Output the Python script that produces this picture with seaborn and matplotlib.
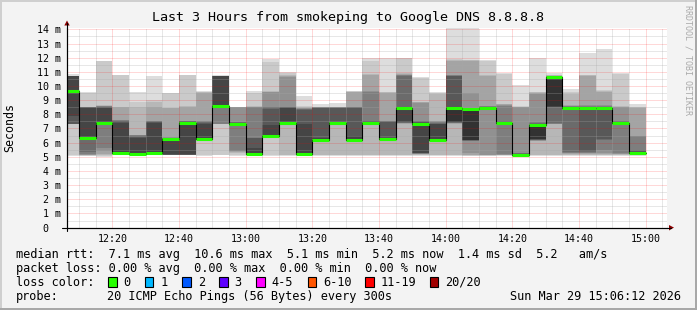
import numpy as np
import pandas as pd
import matplotlib
matplotlib.use("Agg")
import matplotlib.pyplot as plt
import seaborn as sns
from matplotlib.patches import Rectangle, Polygon

# ---------------- data ----------------
bar_end = pd.date_range("2026-03-29 12:10", "2026-03-29 15:00", freq="5min")

median_ms = [9.67, 6.33, 7.42, 5.25, 5.2, 5.25, 6.28, 7.38, 6.28, 8.62,
             7.34, 5.23, 6.5, 7.4, 5.2, 6.22, 7.4, 6.2, 7.4, 6.28,
             8.48, 7.32, 6.22, 8.48, 8.38, 8.47, 7.36, 5.13, 7.28, 10.66,
             8.47, 8.47, 8.47, 7.38, 5.25]

# 20 sorted ping rtts (ms) per 5-minute step
pings_ms = [
    [5.08, 5.1, 7.3, 7.3, 7.3, 7.3, 7.3, 7.32, 7.9, 9.6, 9.75, 10.7, 10.7, 10.7, 10.7, 10.7, 10.7, 10.7, 10.71, 10.83],
    [5.05, 5.08, 5.1, 5.1, 5.15, 5.2, 5.36, 6.28, 6.3, 6.32, 6.35, 8.42, 8.5, 8.5, 8.5, 8.52, 8.54, 8.55, 9.5, 9.55],
    [5.0, 5.05, 5.1, 5.2, 5.4, 5.6, 7.3, 7.35, 7.4, 7.42, 7.43, 8.42, 8.5, 8.55, 8.6, 8.6, 8.6, 8.65, 11.75, 11.8],
    [5.1, 5.15, 5.2, 5.2, 5.2, 5.2, 5.22, 5.23, 5.24, 5.25, 5.26, 7.4, 7.5, 7.55, 7.6, 7.62, 8.5, 8.55, 10.75, 10.78],
    [5.1, 5.15, 5.18, 5.19, 5.2, 5.2, 5.2, 5.2, 5.2, 5.2, 5.22, 6.3, 6.4, 6.5, 6.54, 6.55, 6.56, 8.54, 8.9, 9.6],
    [5.1, 5.15, 5.2, 5.2, 5.2, 5.22, 5.23, 5.24, 5.25, 5.25, 5.26, 7.4, 7.45, 7.5, 7.5, 7.5, 8.54, 8.9, 9.0, 10.71],
    [5.1, 5.12, 5.13, 5.13, 5.14, 5.15, 5.15, 5.16, 5.17, 6.25, 6.3, 6.3, 6.3, 6.3, 6.35, 6.4, 8.42, 8.45, 9.5, 9.53],
    [5.1, 5.12, 5.13, 5.13, 5.13, 5.14, 5.15, 5.16, 5.2, 7.35, 7.4, 7.45, 7.5, 7.5, 7.5, 7.55, 8.54, 8.6, 10.75, 10.78],
    [5.08, 5.1, 6.2, 6.2, 6.22, 6.24, 6.25, 6.26, 6.27, 6.28, 6.29, 7.3, 7.4, 7.45, 7.5, 7.5, 9.5, 9.55, 9.6, 9.67],
    [5.13, 5.15, 7.3, 7.3, 7.3, 7.32, 8.5, 8.55, 8.6, 8.62, 8.63, 10.7, 10.7, 10.7, 10.7, 10.7, 10.7, 10.7, 10.71, 10.78],
    [5.05, 5.1, 5.3, 5.35, 5.4, 5.42, 7.2, 7.28, 7.3, 7.33, 7.36, 7.4, 7.42, 7.44, 7.45, 8.5, 8.52, 8.53, 8.54, 8.55],
    [5.1, 5.15, 5.2, 5.2, 5.2, 5.2, 5.21, 5.22, 5.23, 5.24, 5.25, 5.6, 6.3, 6.3, 8.5, 8.52, 8.54, 8.56, 9.5, 9.65],
    [5.08, 5.1, 6.3, 6.35, 6.4, 6.42, 6.45, 6.48, 6.5, 6.52, 6.55, 7.25, 8.4, 8.5, 8.55, 9.6, 9.6, 9.62, 11.7, 11.9],
    [5.08, 5.1, 5.12, 7.3, 7.32, 7.34, 7.36, 7.38, 7.39, 7.4, 7.42, 8.45, 8.5, 8.52, 8.54, 10.65, 10.7, 10.75, 10.9, 11.0],
    [5.05, 5.1, 5.15, 5.18, 5.19, 5.2, 5.2, 5.2, 5.2, 5.2, 5.22, 7.3, 8.3, 8.35, 8.4, 8.42, 8.45, 8.5, 8.6, 9.3],
    [5.05, 5.1, 5.12, 6.1, 6.15, 6.18, 6.2, 6.22, 6.24, 6.25, 6.26, 6.3, 8.45, 8.48, 8.5, 8.5, 8.5, 8.52, 8.55, 8.75],
    [5.05, 5.1, 5.12, 7.3, 7.32, 7.34, 7.36, 7.37, 7.38, 7.4, 7.42, 7.45, 8.45, 8.48, 8.5, 8.5, 8.5, 8.52, 8.55, 8.77],
    [5.05, 5.1, 5.12, 6.1, 6.12, 6.14, 6.15, 6.16, 6.17, 6.18, 6.2, 6.5, 8.45, 8.5, 8.52, 8.55, 9.55, 9.6, 9.62, 9.67],
    [5.05, 5.1, 5.12, 7.3, 7.32, 7.34, 7.36, 7.37, 7.38, 7.4, 7.42, 7.45, 7.5, 7.55, 9.6, 9.67, 10.8, 10.85, 11.8, 11.95],
    [5.05, 5.1, 5.12, 6.2, 6.22, 6.24, 6.25, 6.26, 6.27, 6.28, 6.3, 6.32, 7.45, 7.5, 7.5, 7.55, 9.5, 9.55, 9.6, 12.0],
    [5.05, 5.1, 5.12, 7.35, 7.38, 7.4, 7.42, 7.44, 7.45, 8.45, 8.5, 8.51, 8.52, 10.7, 10.75, 10.8, 10.85, 10.9, 11.95, 12.0],
    [5.05, 5.1, 5.15, 5.2, 5.2, 5.22, 5.24, 5.25, 5.26, 7.28, 7.35, 7.4, 7.45, 7.5, 7.55, 8.8, 8.85, 8.9, 10.6, 10.66],
    [5.05, 5.1, 5.12, 6.1, 6.12, 6.14, 6.16, 6.18, 6.2, 6.22, 6.25, 7.3, 7.35, 7.4, 7.45, 7.5, 7.52, 9.45, 9.5, 9.55],
    [5.05, 5.1, 5.12, 7.35, 7.38, 7.4, 7.42, 7.44, 7.45, 7.46, 8.5, 8.52, 10.7, 10.72, 10.75, 10.78, 11.8, 11.84, 11.9, 14.1],
    [5.05, 5.08, 5.1, 5.15, 5.3, 6.1, 6.15, 6.18, 6.2, 6.22, 8.3, 8.35, 8.38, 8.4, 8.42, 9.5, 11.8, 11.84, 11.86, 14.1],
    [5.05, 5.08, 5.1, 5.12, 5.15, 8.4, 8.42, 8.43, 8.44, 8.45, 8.48, 8.5, 8.52, 8.55, 8.6, 8.62, 10.7, 10.75, 11.8, 11.84],
    [5.05, 5.1, 5.12, 5.13, 5.15, 5.2, 7.3, 7.32, 7.34, 7.36, 7.38, 7.4, 7.45, 7.5, 8.6, 8.65, 8.7, 8.72, 10.85, 10.9],
    [5.05, 5.08, 5.1, 5.11, 5.12, 5.12, 5.12, 5.13, 5.13, 5.13, 5.14, 5.15, 5.2, 5.25, 5.3, 8.5, 8.52, 8.55, 8.6, 10.1],
    [5.05, 5.1, 5.12, 6.1, 6.15, 6.18, 6.2, 6.22, 6.24, 6.25, 7.2, 7.28, 7.35, 7.4, 7.45, 9.45, 9.5, 9.55, 9.6, 12.0],
    [5.05, 5.1, 5.12, 7.3, 7.32, 7.34, 7.38, 8.5, 8.55, 8.6, 10.6, 10.62, 10.64, 10.66, 10.68, 10.7, 10.72, 10.75, 10.8, 10.9],
    [5.05, 5.1, 5.15, 5.2, 5.25, 5.3, 5.35, 8.35, 8.4, 8.45, 8.48, 8.5, 8.52, 8.55, 8.6, 8.62, 8.65, 9.45, 9.55, 9.8],
    [5.05, 5.1, 5.15, 5.2, 5.25, 5.3, 5.35, 5.4, 8.35, 8.4, 8.45, 8.48, 8.5, 8.55, 8.6, 8.65, 10.7, 10.75, 10.8, 12.3],
    [5.05, 5.1, 5.15, 5.2, 5.3, 5.5, 6.2, 6.25, 8.35, 8.4, 8.45, 8.48, 8.5, 8.55, 8.6, 8.65, 9.6, 9.65, 9.7, 12.6],
    [5.05, 5.1, 5.15, 5.2, 5.22, 5.25, 7.3, 7.32, 7.34, 7.36, 7.38, 7.4, 7.45, 7.5, 7.55, 8.5, 8.55, 8.6, 10.85, 10.9],
    [5.05, 5.1, 5.15, 5.18, 5.2, 5.22, 5.23, 5.24, 5.25, 5.25, 5.26, 5.3, 5.4, 5.45, 6.45, 6.5, 8.45, 8.5, 8.55, 8.7],
]

x_tick_labels = ["12:20", "12:40", "13:00", "13:20", "13:40", "14:00", "14:20", "14:40", "15:00"]
y_tick_values = list(range(0, 15))

title = "Last 3 Hours from smokeping to Google DNS 8.8.8.8"
legend_rtt = "median rtt:  7.1 ms avg  10.6 ms max  5.1 ms min  5.2 ms now  1.4 ms sd  5.2   am/s"
legend_loss = "packet loss: 0.00 % avg  0.00 % max  0.00 % min  0.00 % now"
loss_labels = ["0", "1", "2", "3", "4-5", "6-10", "11-19", "20/20"]
loss_colors = ["#26ff00", "#00b8ff", "#0059ff", "#5e00ff", "#ff00ff", "#ff5500", "#ff0000", "#a10000"]
probe_text = "20 ICMP Echo Pings (56 Bytes) every 300s"
date_text = "Sun Mar 29 15:06:12 2026"

# ---------------- style ----------------
sns.set_theme(style="white")
plt.rcParams["font.family"] = ["DejaVu Sans Mono"]
plt.rcParams["axes.edgecolor"] = "black"

W, H = 697, 310
fig = plt.figure(figsize=(W / 100, H / 100), dpi=100, facecolor="#f3f3f3")

def fp(x, y):
    return (x / W, 1 - y / H)

# frame shading
fig.patches.append(Rectangle((0, 1 - 2 / H), 1, 2 / H, transform=fig.transFigure, color="#cfcfcf", lw=0))
fig.patches.append(Rectangle((0, 0), 2 / W, 1, transform=fig.transFigure, color="#cfcfcf", lw=0))
fig.patches.append(Rectangle((0, 0), 1, 2 / H, transform=fig.transFigure, color="#a8a8a8", lw=0))
fig.patches.append(Rectangle((1 - 2 / W, 0), 2 / W, 1, transform=fig.transFigure, color="#a8a8a8", lw=0))

ax = fig.add_axes([67 / W, (H - 227.6) / H, 600 / W, 200 / H])
ax.set_facecolor("white")

t0 = pd.Timestamp("2026-03-29 12:00")
ends = np.asarray((bar_end - t0).total_seconds() / 60.0)
starts = ends - 5.0
P = np.array(pings_ms)
med = np.array(median_ms)

# smoke layers
n = P.shape[1]
half = n // 2
for i in range(1, half + 1):
    g = int(190 / half * (half - i)) + 50
    col = "#%02x%02x%02x" % (g, g, g)
    lo = P[:, i - 1]
    hi = P[:, n - i]
    ax.bar(starts, hi - lo, bottom=lo, width=5.0, align="edge", color=col,
           linewidth=0, zorder=1)

# median: black step line + green segments
xs = np.append(starts, ends[-1])
ys = np.append(med, med[-1])
sns.lineplot(x=xs, y=ys, drawstyle="steps-post", color="black", lw=0.8,
             estimator=None, sort=False, ax=ax, zorder=3)
ax.hlines(med, starts, ends, colors=loss_colors[0], lw=2.2, zorder=4)

XMIN, XMAX = 6.4, 186.4
YMAX = 200 / 14.16
ax.set_xlim(XMIN, XMAX)
ax.set_ylim(0, YMAX)

# grid (dotted lines)
maj_x = np.arange(20, 181, 20)
min_x = [m for m in np.arange(10, 186, 5) if m % 20 != 0]
maj_y = np.arange(1, 15, 1)
min_y = np.arange(0.5, 14.0, 1.0)
dot = (0, (1, 1))
kw = dict(lw=0.72, linestyles=dot)
ax.vlines(min_x, 0, YMAX, colors="#a8a8a8", alpha=0.55, zorder=2.5, **kw)
ax.hlines(min_y, XMIN, XMAX, colors="#a8a8a8", alpha=0.55, zorder=2.5, **kw)
ax.vlines(maj_x, 0, YMAX, colors="#ff0000", alpha=0.3, zorder=2.6, **kw)
ax.hlines(maj_y, XMIN, XMAX, colors="#ff0000", alpha=0.3, zorder=2.6, **kw)

# ticks
def hm_to_min(s):
    h, m = s.split(":")
    return (int(h) - 12) * 60 + int(m)

ax.set_xticks([hm_to_min(s) for s in x_tick_labels])
ax.set_xticklabels(x_tick_labels)
ax.set_xticks(min_x, minor=True)
ax.set_yticks(y_tick_values)
ax.set_yticklabels([("%d m" % v) if v > 0 else "0  " for v in y_tick_values])
ax.set_yticks(min_y, minor=True)
ax.tick_params(axis="both", which="major", length=2.2, width=0.7, color="black",
               labelsize=7.2, labelcolor="black", direction="out")
ax.tick_params(axis="both", which="minor", length=1.4, width=0.7, color="black", direction="out")
ax.tick_params(axis="x", which="major", pad=2.6)
ax.tick_params(axis="y", which="major", pad=2.4)
ax.set_xlabel("")
ax.set_ylabel("")

for s in ["top", "right"]:
    ax.spines[s].set_visible(False)
for s in ["left", "bottom"]:
    ax.spines[s].set_linewidth(0.8)
    ax.spines[s].set_color("black")
    ax.spines[s].set_zorder(5)

# axis extensions and arrows
fig.add_artist(plt.Line2D([62 / W, 671 / W], [1 - 227.6 / H] * 2, color="black", lw=0.8))
fig.add_artist(plt.Line2D([67 / W] * 2, [1 - 231 / H, 1 - 23 / H], color="black", lw=0.8))
fig.patches.append(Polygon([fp(64.3, 25.5), fp(69.7, 25.5), fp(67, 20.5)], closed=True,
                           transform=fig.transFigure, color="#8b0000", lw=0))
fig.patches.append(Polygon([fp(669, 225), fp(669, 230.5), fp(674, 227.6)], closed=True,
                           transform=fig.transFigure, color="#8b0000", lw=0))

# texts
fig.text(*fp(348, 18), title, ha="center", va="center", fontsize=9.6, color="black")
fig.text(*fp(10, 128), "Seconds", rotation=90, ha="center", va="center", fontsize=8.4, color="black")
fig.text(*fp(688, 60), "RRDTOOL / TOBI OETIKER", rotation=270, ha="center", va="center",
         fontsize=6, color="#aaaaaa")

LFS = 8.52
fig.text(*fp(16, 254.3), legend_rtt, ha="left", va="center", fontsize=LFS, color="black")
fig.text(*fp(16, 268.3), legend_loss, ha="left", va="center", fontsize=LFS, color="black")
fig.text(*fp(16, 282.0), "loss color:", ha="left", va="center", fontsize=LFS, color="black")
box_x = [108, 144.9, 182.2, 219, 256.4, 307.6, 365.3, 429.8]
for bx, lab, c in zip(box_x, loss_labels, loss_colors):
    fig.patches.append(Rectangle((bx / W, 1 - 287.3 / H), 8.5 / W, 10.5 / H,
                                 transform=fig.transFigure, facecolor=c,
                                 edgecolor="black", lw=0.8))
    fig.text(*fp(bx + 15.5, 282.0), lab, ha="left", va="center", fontsize=LFS, color="black")
fig.text(*fp(16, 296.3), "probe:", ha="left", va="center", fontsize=LFS, color="black")
fig.text(*fp(106.7, 296.3), probe_text, ha="left", va="center", fontsize=LFS, color="black")
fig.text(*fp(681, 296.3), date_text, ha="right", va="center", fontsize=LFS, color="black")

fig.savefig("out.png", dpi=100, facecolor=fig.get_facecolor())
